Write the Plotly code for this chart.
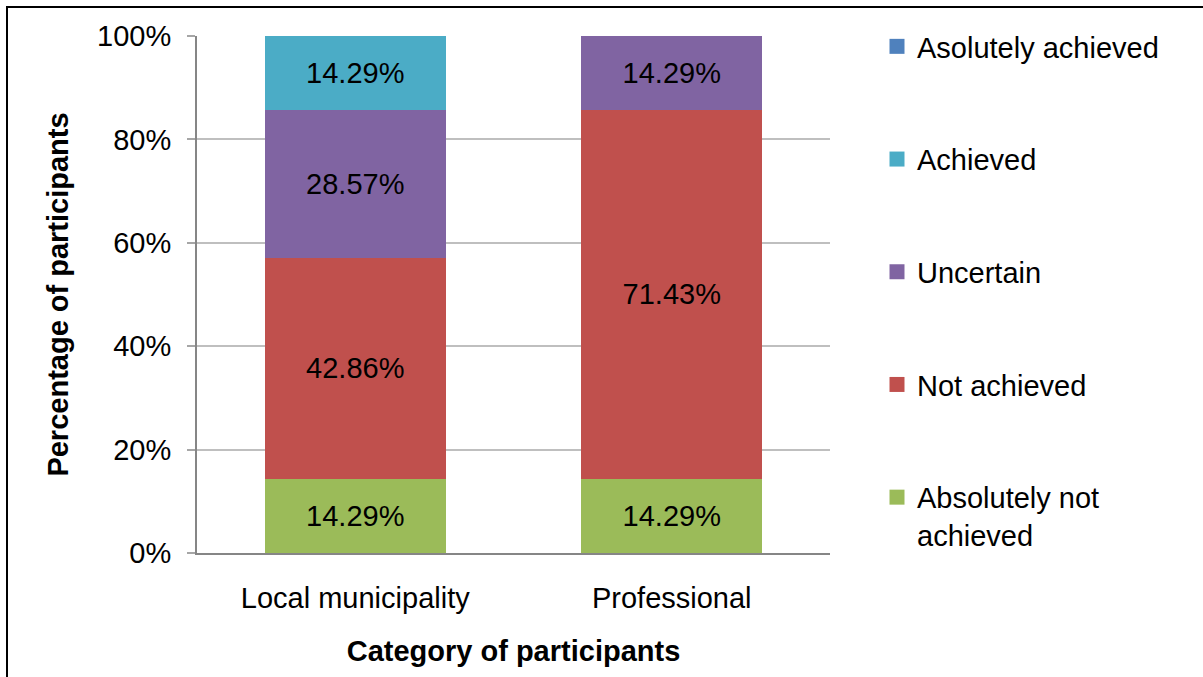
import plotly.graph_objects as go

# Participant groups on the x axis
categories = ["Local municipality", "Professional"]

# Share of participants per response (percent), bottom of the stack first
absolutely_not_achieved = [14.29, 14.29]
not_achieved = [42.86, 71.43]
uncertain = [28.57, 14.29]
achieved = [14.29, 0]
asolutely_achieved = [0, 0]

series = [
    ("Absolutely not<br>achieved", absolutely_not_achieved, "#9BBB59"),
    ("Not achieved", not_achieved, "#C0504D"),
    ("Uncertain", uncertain, "#8064A2"),
    ("Achieved", achieved, "#4BACC6"),
    ("Asolutely achieved", asolutely_achieved, "#4F81BD"),
]

y_ticks = [0, 20, 40, 60, 80, 100]

W, H = 1203, 677
L, R, T, B = 197, 373, 36, 124
FONT = "Liberation Sans, Arial, sans-serif"
FS = 29

fig = go.Figure()
n = len(series)
for i, (name, vals, color) in enumerate(series):
    fig.add_trace(go.Bar(
        x=categories,
        y=vals,
        name=name,
        legendgroup=f"g{i}",
        showlegend=False,
        marker=dict(color=color, line=dict(width=0)),
        text=[f"{v:.2f}%" if v > 0 else "" for v in vals],
        textposition="inside",
        insidetextanchor="middle",
        textangle=0,
        textfont=dict(family=FONT, size=FS, color="#000000"),
        hoverinfo="skip",
    ))
    # legend entry with a square swatch
    fig.add_trace(go.Scatter(
        x=[None], y=[None],
        mode="markers",
        name=name,
        legendgroup=f"g{i}",
        legendrank=n - i,
        marker=dict(symbol="square", size=15, color=color, line=dict(width=0)),
        hoverinfo="skip",
    ))

# convert pixel positions to paper coordinates for the outer frame
pw, ph = W - L - R, H - T - B
def px_x(p):
    return (p - L) / pw
def px_y(p):
    return (H - B - p) / ph

fig.add_shape(
    type="rect", xref="paper", yref="paper",
    x0=px_x(7), x1=px_x(W + 20), y0=px_y(7), y1=px_y(H + 20),
    line=dict(color="#000000", width=2), fillcolor="rgba(0,0,0,0)",
    layer="above",
)

fig.update_layout(
    width=W, height=H,
    margin=dict(l=L, r=R, t=T, b=B, pad=0),
    barmode="stack",
    bargap=0.428,
    plot_bgcolor="#FFFFFF",
    paper_bgcolor="#FFFFFF",
    font=dict(family=FONT, size=FS, color="#000000"),
    legend=dict(
        traceorder="grouped",
        tracegroupgap=72,
        x=877 / W, xref="container", xanchor="left",
        y=1 - 21 / H, yref="container", yanchor="top",
        font=dict(family=FONT, size=FS, color="#000000"),
        valign="top",
        bgcolor="rgba(0,0,0,0)",
        itemclick=False,
        maxheight=660,
    ),
    xaxis=dict(
        showline=True, linecolor="#868686", linewidth=2,
        ticks="", showgrid=False,
        tickfont=dict(family=FONT, size=FS),
        ticklabelstandoff=18,
        title=dict(text="<b>Category of participants</b>",
                   font=dict(family=FONT, size=FS), standoff=28),
    ),
    yaxis=dict(
        range=[0, 100],
        tickvals=y_ticks,
        ticktext=[f"{v}%" for v in y_ticks],
        showline=True, linecolor="#868686", linewidth=2,
        ticks="outside", ticklen=8, tickcolor="#A6A6A6", tickwidth=2,
        ticklabelstandoff=10,
        showgrid=True, gridcolor="#BFBFBF", gridwidth=2,
        zeroline=False,
        tickfont=dict(family=FONT, size=FS),
        title=dict(text="<b>Percentage of participants</b>",
                   font=dict(family=FONT, size=FS), standoff=20),
    ),
)

fig.write_html("out.html")
